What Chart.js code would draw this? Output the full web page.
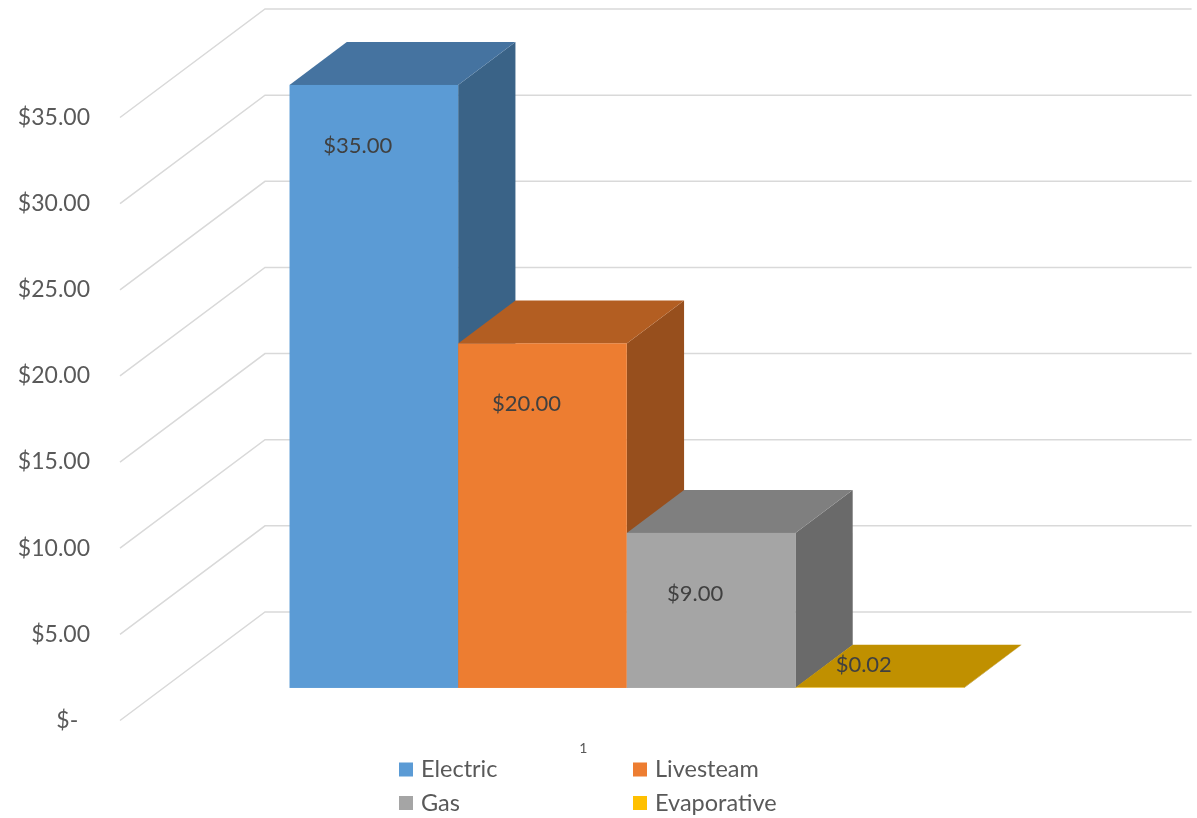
<!DOCTYPE html>
<html>
<head>
<meta charset="utf-8">
<title>Cost comparison</title>
<script src="https://cdn.jsdelivr.net/npm/chart.js@4/dist/chart.umd.min.js"></script>
<style>
  html, body { margin: 0; padding: 0; background: #ffffff; }
  #wrap { width: 1197px; height: 818px; }
</style>
</head>
<body>
<div id="wrap"><canvas id="chart" width="1197" height="818"></canvas></div>
<script>
// ---- data ----
const categories = ['1'];
const seriesNames = ['Electric', 'Livesteam', 'Gas', 'Evaporative'];
const electricValues = [35.00];
const livesteamValues = [20.00];
const gasValues = [9.00];
const evaporativeValues = [0.02];
const yTickValues = [0, 5, 10, 15, 20, 25, 30, 35];

// ---- styling ----
const frontColors = ['#5B9BD5', '#ED7D31', '#A5A5A5', '#FFC000'];
const topColors   = ['#4573A0', '#B35E22', '#7F7F7F', '#C09000'];
const sideColors  = ['#3A6387', '#974F1D', '#6A6A6A', '#A07800'];
const FONT = 'Lato, "Open Sans", sans-serif';

// oblique projection of the depth axis (floor runs up and to the right)
const DEPTH_X = 145;
const DEPTH_Y = -108.5;
const BAR_FRONT = 0.30;   // depth fraction where bar fronts sit
const BAR_DEPTH = 0.395;  // depth fraction occupied by each bar

function money(v) {
  return v === 0 ? '$-' : '$' + v.toFixed(2);
}

const threeD = {
  id: 'threeD',
  beforeDatasetsDraw(chart) {
    const ctx = chart.ctx;
    const area = chart.chartArea;
    const yScale = chart.scales.y;

    // side wall + back wall gridlines
    ctx.save();
    ctx.strokeStyle = '#D9D9D9';
    ctx.lineWidth = 1.5;
    yTickValues.forEach(v => {
      const y = yScale.getPixelForValue(v);
      ctx.beginPath();
      ctx.moveTo(area.left, y);
      ctx.lineTo(area.left + DEPTH_X, y + DEPTH_Y);
      ctx.lineTo(area.right + DEPTH_X, y + DEPTH_Y);
      ctx.stroke();
    });
    ctx.restore();

    const ox = BAR_FRONT * DEPTH_X, oy = BAR_FRONT * DEPTH_Y;
    const dx = BAR_DEPTH * DEPTH_X, dy = BAR_DEPTH * DEPTH_Y;
    const labels = [];

    chart.data.datasets.forEach((ds, i) => {
      const meta = chart.getDatasetMeta(i);
      meta.data.forEach((el, j) => {
        const p = el.getProps(['x', 'y', 'base', 'width'], true);
        const l = p.x - p.width / 2 + ox;
        const r = p.x + p.width / 2 + ox;
        const t = Math.min(p.y, p.base) + oy;
        const b = Math.max(p.y, p.base) + oy;

        ctx.save();
        // right side face
        ctx.fillStyle = sideColors[i];
        ctx.beginPath();
        ctx.moveTo(r, t);
        ctx.lineTo(r + dx, t + dy);
        ctx.lineTo(r + dx, b + dy);
        ctx.lineTo(r, b);
        ctx.closePath();
        ctx.fill();
        // top face
        ctx.fillStyle = topColors[i];
        ctx.beginPath();
        ctx.moveTo(l, t);
        ctx.lineTo(r, t);
        ctx.lineTo(r + dx, t + dy);
        ctx.lineTo(l + dx, t + dy);
        ctx.closePath();
        ctx.fill();
        // front face
        ctx.fillStyle = frontColors[i];
        ctx.fillRect(l, t, r - l, b - t);
        ctx.restore();

        const value = ds.data[j];
        labels.push({
          text: money(value),
          x: (l + r) / 2 - 16,
          y: Math.min(t + 61, b - 23)
        });
      });
    });

    // value labels
    ctx.save();
    ctx.font = '22px ' + FONT;
    ctx.fillStyle = '#404040';
    ctx.textAlign = 'center';
    ctx.textBaseline = 'middle';
    labels.forEach(lb => ctx.fillText(lb.text, lb.x, lb.y));
    ctx.restore();

    return false; // bars are fully drawn above
  },
  afterDraw(chart) {
    // two-column legend under the axis
    const ctx = chart.ctx;
    const cols = [399, 633];
    const rows = [769.5, 803];
    ctx.save();
    ctx.font = '23.5px ' + FONT;
    ctx.textBaseline = 'middle';
    ctx.textAlign = 'left';
    chart.data.datasets.forEach((ds, i) => {
      const x = cols[i % 2];
      const y = rows[Math.floor(i / 2)];
      ctx.fillStyle = ds.backgroundColor;
      ctx.fillRect(x, y - 7, 14, 14);
      ctx.fillStyle = '#595959';
      ctx.fillText(ds.label, x + 22, y);
    });
    ctx.restore();
  }
};

const seriesValues = [electricValues, livesteamValues, gasValues, evaporativeValues];

new Chart(document.getElementById('chart'), {
  type: 'bar',
  data: {
    labels: categories,
    datasets: seriesNames.map((name, i) => ({
      label: name,
      data: seriesValues[i],
      backgroundColor: frontColors[i],
      categoryPercentage: 0.728,
      barPercentage: 1.0
    }))
  },
  options: {
    responsive: false,
    animation: false,
    layout: { padding: { top: 117.5, right: 150.4, bottom: 0, left: 0 } },
    plugins: {
      legend: { display: false },
      tooltip: { enabled: false }
    },
    scales: {
      x: {
        grid: { display: false, drawTicks: false },
        border: { display: false },
        ticks: { color: '#595959', font: { family: FONT, size: 14 }, padding: 20 },
        afterFit(scale) { scale.height = 97.5; }
      },
      y: {
        min: 0,
        max: 35,
        afterBuildTicks(scale) { scale.ticks = yTickValues.map(v => ({ value: v })); },
        grid: { display: false, drawTicks: false },
        border: { display: false },
        ticks: {
          color: '#595959',
          font: { family: FONT, size: 23 },
          padding: 30,
          callback: v => v === 0 ? '$-  ' : money(v)
        },
        afterFit(scale) { scale.width = 120; }
      }
    }
  },
  plugins: [threeD]
});
</script>
</body>
</html>
